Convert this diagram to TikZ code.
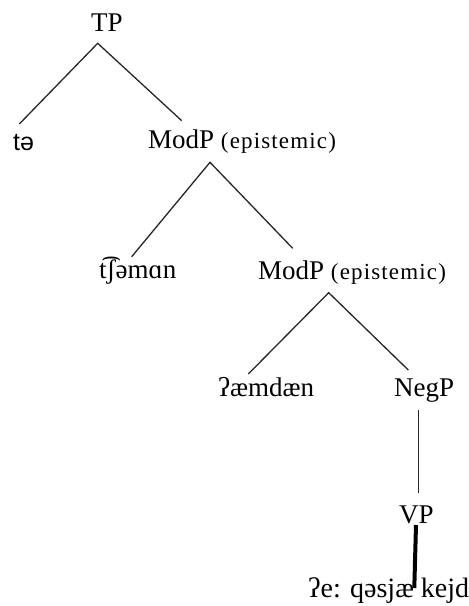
\documentclass[tikz,border=0pt]{standalone}
\usepackage{fontspec}
\setmainfont{Liberation Serif}
\newfontfamily\sansf{Liberation Sans}
\newfontfamily\smallf[LetterSpace=5]{Liberation Serif}
\newcommand{\episttxt}{{\smallf\fontsize{23}{26}\selectfont (epistemic)}}
\tikzset{
  lab/.style={anchor=base west, inner sep=0pt, font=\fontsize{27}{30}\selectfont},
  branch/.style={line width=1.3pt, black!85},
  thickbranch/.style={line width=4pt, black}
}
\begin{document}
\begin{tikzpicture}[x=1pt,y=-1pt]
\useasboundingbox (0,0) rectangle (469,606);
% labels
\node[lab] (tp) at (91,31) {TP};
\node[lab, font=\sansf\fontsize{25}{30}\selectfont] (te) at (13,150) {tə};
\node[lab] (mod1) at (148,148) {ModP \episttxt};
\node[lab] (tsh) at (99,278) {t͡ʃəmɑn};
\node[lab] (mod2) at (258,279) {ModP \episttxt};
\node[lab] (aem) at (218,396) {ʔæmdæn};
\node[lab] (neg) at (394,396) {NegP};
\node[lab] (vp) at (399,523) {VP};
\node[lab, font=\fontsize{28}{30}\selectfont] (bot) at (308,597) {ʔe: qəsjæ kejdæ};
% branch end points
\coordinate (a1) at (97.7,43.3);
\coordinate (b1l) at (19.3,124);
\coordinate (b1r) at (181.7,120.7);
\coordinate (a2) at (210,162.3);
\coordinate (b2l) at (131.7,256.7);
\coordinate (b2r) at (292.7,248.3);
\coordinate (a3) at (328.7,292.7);
\coordinate (b3l) at (248.3,374);
\coordinate (b3r) at (408.3,370);
\coordinate (a4) at (418.3,410);
\coordinate (b4) at (418.3,493.3);
\coordinate (a5) at (416,525);
\coordinate (b5) at (414.3,588);
\draw[branch] (b1l) -- (a1) -- (b1r);
\draw[branch] (b2l) -- (a2) -- (b2r);
\draw[branch] (b3l) -- (a3) -- (b3r);
\draw[branch] (a4) -- (b4);
\draw[thickbranch] (a5) -- (b5);
\end{tikzpicture}
\end{document}
